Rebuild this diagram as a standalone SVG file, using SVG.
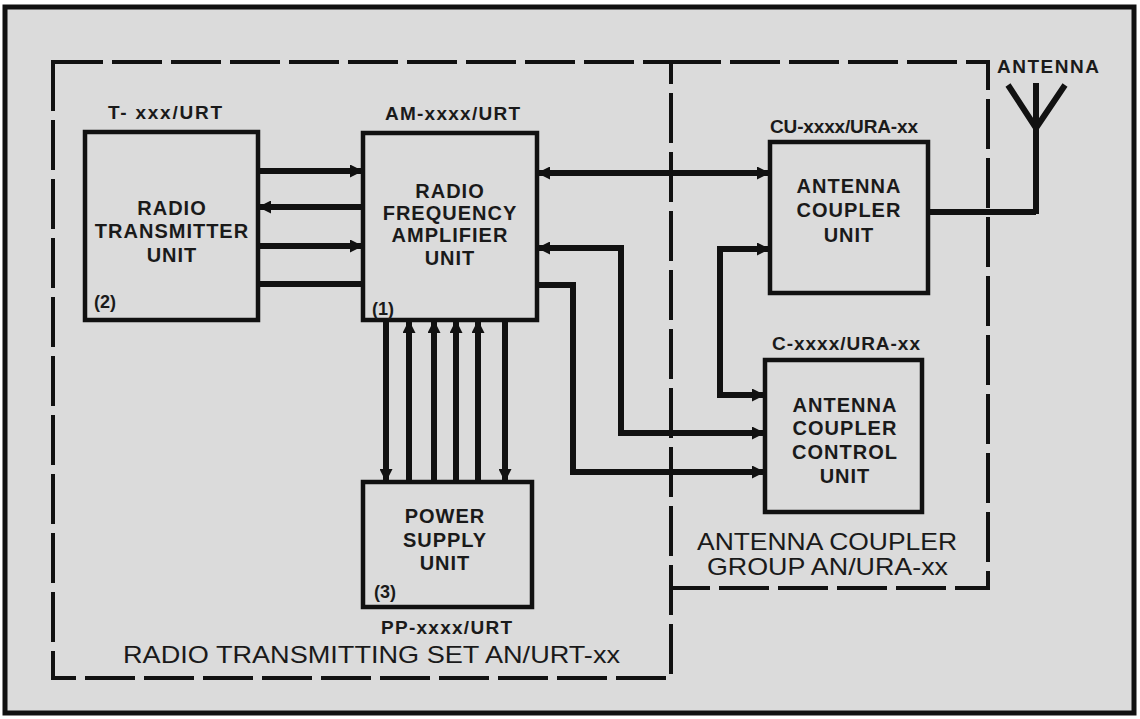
<svg xmlns="http://www.w3.org/2000/svg" width="1140" height="719" viewBox="0 0 1140 719">
<defs>
<style>
.box{fill:none;stroke:#111;stroke-width:4.5}
.ln{fill:none;stroke:#111;stroke-width:6}
.dash{fill:none;stroke:#111;stroke-width:4;stroke-dasharray:50 9}
.bt{font-family:"Liberation Sans",Arial,sans-serif;font-weight:bold;font-size:20px;letter-spacing:1px;text-anchor:middle;fill:#1a1a1a}
.lbl{font-family:"Liberation Sans",Arial,sans-serif;font-weight:bold;font-size:19px;fill:#1a1a1a}
.num{font-family:"Liberation Sans",Arial,sans-serif;font-weight:bold;font-size:18px;fill:#1a1a1a}
.grp{font-family:"Liberation Sans",Arial,sans-serif;font-size:24px;fill:#1a1a1a}
</style>
<marker id="ah" viewBox="0 0 12 12" refX="12" refY="6" markerWidth="13" markerHeight="13" markerUnits="userSpaceOnUse" orient="auto-start-reverse">
<path d="M0,0 L12,6 L0,12 z" fill="#111"/>
</marker>
</defs>
<rect x="0" y="0" width="1140" height="719" fill="#ffffff"/>
<rect x="5" y="7" width="1129" height="706" fill="#dbdbdb" stroke="#111" stroke-width="5"/>

<g id="group-transmitting-set">
<path class="dash" d="M53,62 H671 V678 H53 Z"/>
<text class="grp" x="123" y="663" textLength="497" lengthAdjust="spacingAndGlyphs">RADIO TRANSMITTING SET AN/URT-xx</text>
</g>
<g id="group-coupler">
<path class="dash" d="M671,62 H988 V588 H671"/>
<text class="grp" x="697" y="550" textLength="260" lengthAdjust="spacingAndGlyphs">ANTENNA COUPLER</text>
<text class="grp" x="707" y="575" textLength="241" lengthAdjust="spacingAndGlyphs">GROUP AN/URA-xx</text>
</g>

<g id="transmitter">
<rect class="box" x="85" y="132" width="173" height="188"/>
<text class="lbl" x="108" y="119" textLength="114">T- xxx/URT</text>
<text class="bt" x="172" y="215">RADIO</text>
<text class="bt" x="172" y="238">TRANSMITTER</text>
<text class="bt" x="172" y="262">UNIT</text>
<text class="num" x="94" y="308">(2)</text>
</g>

<g id="amplifier">
<rect class="box" x="363" y="133" width="174" height="187"/>
<text class="lbl" x="385" y="120" textLength="135">AM-xxxx/URT</text>
<text class="bt" x="450" y="198">RADIO</text>
<text class="bt" x="450" y="220">FREQUENCY</text>
<text class="bt" x="450" y="242">AMPLIFIER</text>
<text class="bt" x="450" y="265">UNIT</text>
<text class="num" x="372" y="315">(1)</text>
</g>

<g id="power-supply">
<rect class="box" x="363" y="482" width="169" height="125"/>
<text class="bt" x="445" y="523">POWER</text>
<text class="bt" x="445" y="547">SUPPLY</text>
<text class="bt" x="445" y="570">UNIT</text>
<text class="num" x="374" y="598">(3)</text>
<text class="lbl" x="381" y="634" textLength="131">PP-xxxx/URT</text>
</g>

<g id="coupler-unit">
<rect class="box" x="770" y="142" width="158" height="151"/>
<text class="lbl" x="770" y="133" textLength="148">CU-xxxx/URA-xx</text>
<text class="bt" x="849" y="193">ANTENNA</text>
<text class="bt" x="849" y="217">COUPLER</text>
<text class="bt" x="849" y="242">UNIT</text>
</g>

<g id="control-unit">
<rect class="box" x="765" y="360" width="157" height="152"/>
<text class="lbl" x="772" y="350" textLength="148">C-xxxx/URA-xx</text>
<text class="bt" x="845" y="412">ANTENNA</text>
<text class="bt" x="845" y="435">COUPLER</text>
<text class="bt" x="845" y="459">CONTROL</text>
<text class="bt" x="845" y="483">UNIT</text>
</g>

<g id="antenna">
<path class="ln" d="M1008,85 L1036,128 L1065,85"/>
<path class="ln" d="M1036,83 V214"/>
<text class="lbl" x="997" y="73" font-size="19" textLength="102">ANTENNA</text>
</g>

<g id="connectors">
<path class="ln" d="M258,171 H363" marker-end="url(#ah)"/>
<path class="ln" d="M258,207 H363" marker-start="url(#ah)"/>
<path class="ln" d="M258,246 H363" marker-end="url(#ah)"/>
<path class="ln" d="M258,284 H363"/>
<path class="ln" d="M537,173 H770" marker-start="url(#ah)" marker-end="url(#ah)"/>
<path class="ln" d="M537,248 H621 V433 H765" marker-start="url(#ah)" marker-end="url(#ah)"/>
<path class="ln" d="M537,285 H573 V472 H765" marker-end="url(#ah)"/>
<path class="ln" d="M770,249 H720 V395 H765" marker-start="url(#ah)" marker-end="url(#ah)"/>
<path class="ln" d="M386,320 V482" marker-end="url(#ah)"/>
<path class="ln" d="M409,482 V320" marker-end="url(#ah)"/>
<path class="ln" d="M434,482 V320" marker-end="url(#ah)"/>
<path class="ln" d="M456,482 V320" marker-end="url(#ah)"/>
<path class="ln" d="M478,482 V320" marker-end="url(#ah)"/>
<path class="ln" d="M505,320 V482" marker-end="url(#ah)"/>
<path class="ln" d="M928,212 H1036"/>
</g>
</svg>
